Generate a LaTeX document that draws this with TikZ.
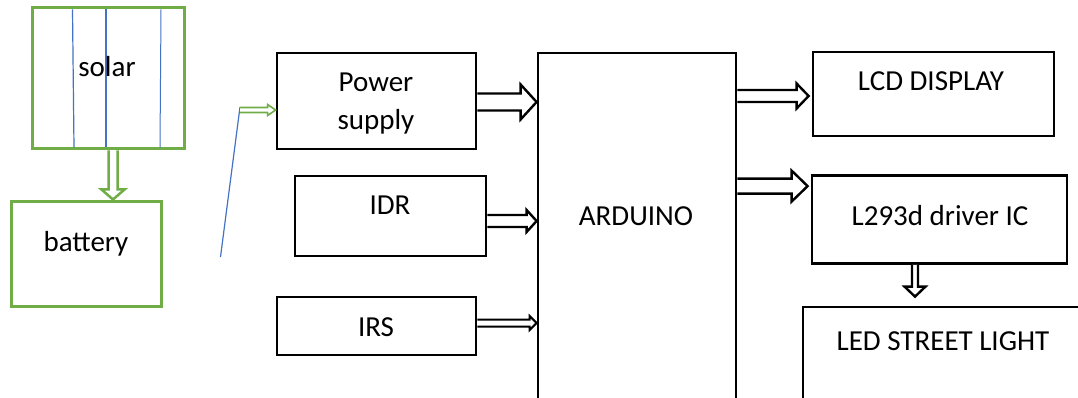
\documentclass[tikz,border=0pt]{standalone}
\usepackage{fontspec}
\setmainfont{Carlito}
\usetikzlibrary{calc}
\definecolor{pgreen}{HTML}{70AD47}
\definecolor{pblue}{HTML}{4472C4}
\newcommand\harrow[6][]{\draw[#1] let \p1=#2, \p2=#3 in (\x1,\y1+#4) -- (\x2-#6,\y1+#4) -- (\x2-#6,\y1+#5) -- (\x2,\y1) -- (\x2-#6,\y1-#5) -- (\x2-#6,\y1-#4) -- (\x1,\y1-#4);}
\newcommand\varrow[6][]{\draw[#1] let \p1=#2, \p2=#3 in (\x1+#4,\y1) -- (\x1+#4,\y2+#6) -- (\x1+#5,\y2+#6) -- (\x1,\y2) -- (\x1-#5,\y2+#6) -- (\x1-#4,\y2+#6) -- (\x1-#4,\y1);}
\begin{document}
\begin{tikzpicture}[x=1pt,y=-1pt,
  blackbox/.style={draw=black,line width=2.8pt,rectangle,inner sep=0pt,fill=white},
  greenbox/.style={draw=pgreen,line width=3pt,rectangle,inner sep=0pt},
  lbl/.style={anchor=base,inner sep=0pt,font=\fontsize{29pt}{34pt}\selectfont},
  barrow/.style={draw=black,line width=2.4pt,line join=miter,fill=white},
  garrow/.style={draw=pgreen,line width=2.5pt,line join=miter,fill=white},
  thinline/.style={draw=pblue,line width=1.2pt}]
\clip (0,0) rectangle (1078,398);
\fill[white] (0,0) rectangle (1078,398);
% boxes
\node[greenbox,minimum width=152pt,minimum height=141pt] (solar) at (108,78.5) {};
\node[greenbox,minimum width=150pt,minimum height=105pt] (bat) at (86,253.5) {};
\node[blackbox,minimum width=199pt,minimum height=96pt] (ps) at (376.5,101) {};
\node[blackbox,minimum width=191pt,minimum height=80pt] (idr) at (390.5,216) {};
\node[blackbox,minimum width=199pt,minimum height=58pt] (irs) at (376.5,326) {};
\node[blackbox,minimum width=198pt,minimum height=400pt] (ard) at (637,253) {};
\node[blackbox,minimum width=241pt,minimum height=84pt] (lcd) at (933.5,94) {};
\node[blackbox,minimum width=255pt,minimum height=88pt] (drv) at (939.5,219.5) {};
\node[blackbox,minimum width=290pt,minimum height=140pt] (led) at (948,377) {};
% solar cell lines
\draw[thinline] (72.5,9.5) -- (74,147.5);
\draw[thinline,line width=1.5pt] (106,9.5) -- (106,147.5);
\draw[thinline,line width=1pt] (161,9.5) -- (160,147.5);
% texts
\node[lbl] (tsolar) at (107,77) {solar};
\node[lbl] (tbat) at (86,251) {battery};
\node[lbl] (tps1) at (376,92) {Power};
\node[lbl] (tps2) at (376,130) {supply};
\node[lbl] (tidr) at (390,214) {IDR};
\node[lbl] (tirs) at (376,336) {IRS};
\node[lbl] (tard) at (636,225) {ARDUINO};
\node[lbl] (tlcd) at (931,91) {LCD DISPLAY};
\node[lbl] (tdrv) at (940,225) {L293d driver IC};
\node[lbl] (tled) at (943,350) {LED STREET LIGHT};
% blue stroke and green input arrow
\coordinate (wireA) at (220.5,257);
\coordinate (wireB) at (240,107);
\draw[thinline] (wireA) -- (wireB);
\harrow[garrow,line width=1.6pt]{($(wireB)+(0,3)$)}{($(ps.west)+(0,-52+61)$ |- 0,110)}{2.5pt}{5.5pt}{8pt}
% green solar -> battery
\varrow[garrow]{($(solar.south)+(5,0)$)}{($(bat.north)+(27,0)$)}{4.5pt}{11.5pt}{10pt}
% black arrows
\harrow[barrow]{($(ps.east)+(0,1)$)}{($(ps.east -| ard.west)+(0,1)$)}{8.5pt}{17.5pt}{16pt}
\harrow[barrow]{($(idr.east)+(0,5)$)}{($(idr.east -| ard.west)+(0,5)$)}{6pt}{11pt}{10pt}
\harrow[barrow,line width=2pt]{($(irs.east)+(0,-3)$)}{($(irs.east -| ard.west)+(0,-3)$)}{3.5pt}{7pt}{7pt}
\harrow[barrow]{($(lcd.west -| ard.east)+(0,2)$)}{($(lcd.west)+(-3,2)$)}{6pt}{12.5pt}{12pt}
\harrow[barrow]{($(drv.north west -| ard.east)+(0,12)$)}{($(drv.north west)+(-3,12)$)}{7.5pt}{15.5pt}{16pt}
\varrow[barrow]{($(drv.south)+(-24.5,0)$)}{($(led.north -| 914.5,0)+(0,-9)$)}{3pt}{10.5pt}{10pt}
\end{tikzpicture}
\end{document}
